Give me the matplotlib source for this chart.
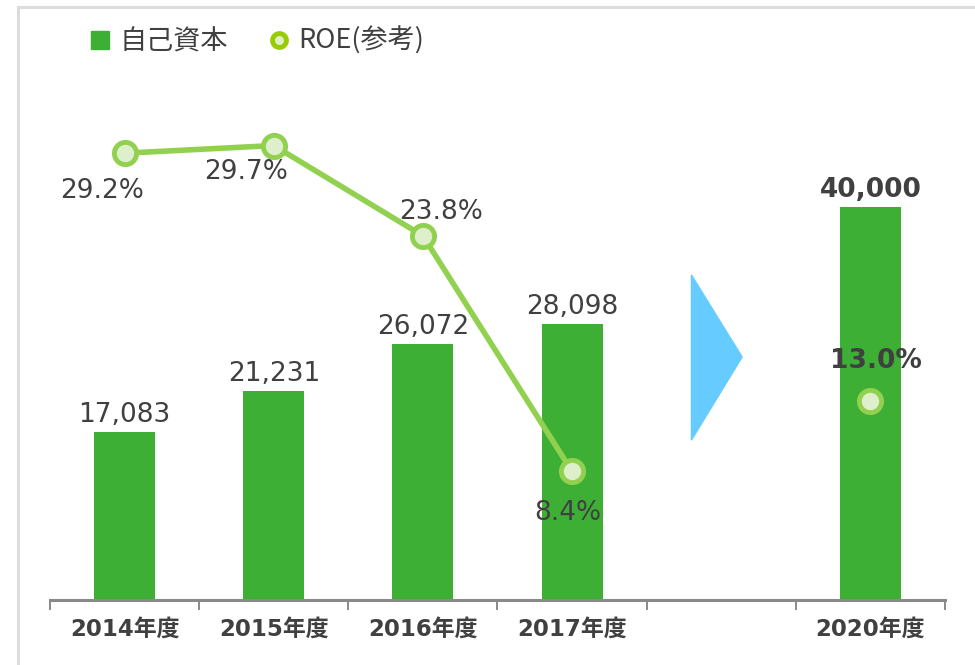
import numpy as np
import matplotlib
matplotlib.use("Agg")
import matplotlib.pyplot as plt
from matplotlib.lines import Line2D
from matplotlib.patches import Polygon
from matplotlib.transforms import blended_transform_factory

plt.rcParams['font.family'] = ['DejaVu Sans', 'Noto Sans CJK JP']

# data
categories = ['2014年度', '2015年度', '2016年度', '2017年度', '', '2020年度']
bar_idx = [0, 1, 2, 3, 5]
equity = [17083, 21231, 26072, 28098, 40000]
equity_labels = ['17,083', '21,231', '26,072', '28,098', '40,000']
roe_idx = [0, 1, 2, 3]
roe = [29.2, 29.7, 23.8, 8.4]
roe_plan_idx = [5]
roe_plan = [13.0]

# label offsets (points) for ROE texts
roe_offsets = [(-16, -27), (-20, -19), (13, 17), (-3, -30)]
plan_offset = (4, 29)

bar_color = '#3DAF35'
line_color = '#92D050'
dot_fill = '#DDEFCB'
text_color = '#404040'

fig = plt.figure(figsize=(9.75, 6.65), dpi=100)
ax = fig.add_axes([50/975, 65/665, 895/975, 540/665])

ax.bar(bar_idx, equity, width=0.41, color=bar_color, zorder=2)
ax.set_xlim(-0.5, len(categories) - 0.5)
ax.set_ylim(0, 54960)

for i, (x, v) in enumerate(zip(bar_idx, equity)):
    bold = (x == 5)
    ax.annotate(equity_labels[i], (x, v), xytext=(0, 3), textcoords='offset points',
                ha='center', va='bottom', fontsize=19, color=text_color,
                fontweight='bold' if bold else 'normal')

# axis styling
for s in ['top', 'right', 'left']:
    ax.spines[s].set_visible(False)
ax.spines['bottom'].set_color('#898989')
ax.spines['bottom'].set_linewidth(2.2)
ax.set_yticks([])
ax.set_xticks(np.arange(-0.5, len(categories)), minor=False)
ax.set_xticklabels([])
ax.tick_params(axis='x', which='major', length=7, width=1.4, color='#898989')
ax.set_xticks(np.arange(len(categories)), minor=True)
ax.set_xticklabels(categories, minor=True, fontsize=16.5, fontweight='bold',
                   color=text_color)
ax.tick_params(axis='x', which='minor', length=0, pad=13)

# arrow between 2017 and 2020
tr = blended_transform_factory(ax.transData, ax.transAxes)
ax.add_patch(Polygon([(3.80, 0.602), (4.14, 0.45), (3.80, 0.296)],
                     closed=True, color='#66CCFF', transform=tr, zorder=2))

# ROE on secondary axis
ax2 = ax.twinx()
ax2.set_ylim(0, 35.29)
ax2.axis('off')
ax2.plot(roe_idx, roe, color=line_color, lw=4, marker='o', markersize=16,
         markerfacecolor=dot_fill, markeredgecolor=line_color, markeredgewidth=3.5,
         zorder=3)
ax2.plot(roe_plan_idx, roe_plan, ls='none', marker='o', markersize=16,
         markerfacecolor=dot_fill, markeredgecolor=line_color, markeredgewidth=3.5,
         zorder=3)
for x, v, off in zip(roe_idx, roe, roe_offsets):
    ax2.annotate(f'{v:.1f}%', (x, v), xytext=off, textcoords='offset points',
                 ha='center', va='center', fontsize=19, color=text_color)
for x, v in zip(roe_plan_idx, roe_plan):
    ax2.annotate(f'{v:.1f}%', (x, v), xytext=plan_offset, textcoords='offset points',
                 ha='center', va='center', fontsize=19, fontweight='bold',
                 color=text_color)

# legend
handles = [
    Line2D([], [], ls='none', marker='s', markersize=13, color=bar_color),
    Line2D([], [], ls='none', marker='o', markersize=10, markerfacecolor='#DDEFCB',
           markeredgecolor='#99CC00', markeredgewidth=3.5),
]
fig.legend(handles, ['自己資本', 'ROE(参考)'], loc='center left',
           bbox_to_anchor=(76/975, 1 - 41/665), ncol=2, frameon=False,
           prop={'family': ['Noto Sans CJK JP'], 'size': 19.5},
           labelcolor=text_color, handlelength=0.8, handletextpad=0.3,
           columnspacing=1.5, borderpad=0)

# outer frame
fig.add_artist(Line2D([18/975, 1], [1 - 7/665, 1 - 7/665], color='#DCDCDC', lw=2.2))
fig.add_artist(Line2D([18/975, 18/975], [0, 1 - 7/665], color='#DCDCDC', lw=2.2))

fig.savefig('out.png', dpi=100)
